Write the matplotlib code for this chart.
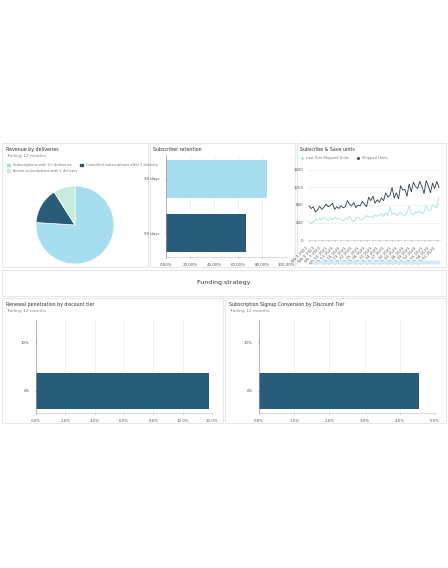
import matplotlib.pyplot as plt
from matplotlib.patches import Rectangle

W, H = 448, 568
fig = plt.figure(figsize=(4.48, 5.68), dpi=100)
fig.patch.set_facecolor('white')

LIGHT = '#a6def0'
DARK = '#285d79'
MINT = '#c7ecd9'
GRID = '#e6e6e6'
TXT = '#555555'

pie_labels = ['Subscriptions with 2+ deliveries', 'Cancelled subscriptions after 1 delivery',
              'Active subscriptions with 1 delivery']
pie_values = [76, 15, 9]

ret_cats = ['90 days', '30 days']
ret_vals = [67, 84]

shipped = [780, 720, 760, 640, 690, 770, 700, 750, 820, 760, 790, 840, 700, 760, 720, 780, 740,
           760, 900, 820, 780, 860, 740, 800, 780, 880, 820, 760, 980, 900, 1000, 840, 920, 860,
           960, 900, 1080, 980, 1020, 1200, 960, 1080, 940, 1240, 1140, 1160, 1000, 1280, 1100,
           1320, 1220, 1180, 1340, 1220, 1060, 1360, 1240, 1080, 1300, 1180, 1340, 1200]
last_year = [420, 380, 400, 480, 450, 500, 460, 520, 480, 440, 500, 460, 520, 480, 500, 460, 440,
             500, 480, 540, 460, 420, 500, 520, 480, 460, 500, 560, 520, 540, 500, 580, 540, 560,
             600, 540, 620, 560, 760, 580, 620, 560, 600, 640, 580, 560, 620, 780, 600, 580, 640,
             620, 660, 600, 640, 780, 680, 660, 800, 760, 740, 980]
week_labels = ['Wk %d 2023' % (i + 1) for i in range(len(shipped))]

tier_cats = ['0%', '10%']
renewal_vals = [11.8, 0]
signup_vals = [4.55, 0]


def ax_at(x0, y0, x1, y1):
    return fig.add_axes([x0 / W, 1 - y1 / H, (x1 - x0) / W, (y1 - y0) / H])


def panel(x0, y0, x1, y1):
    fig.patches.append(Rectangle((x0 / W, 1 - y1 / H), (x1 - x0) / W, (y1 - y0) / H,
                                 transform=fig.transFigure, facecolor='white',
                                 edgecolor='#e8e8e8', lw=0.8, zorder=-10))


def ptext(x, y, s, size=3.2, color='#333333', **kw):
    fig.text(x / W, 1 - y / H, s, fontsize=size, color=color, va='top', **kw)


def style(ax):
    ax.patch.set_alpha(0)
    for s in ['top', 'right']:
        ax.spines[s].set_visible(False)
    ax.spines['left'].set_color('#999999')
    ax.spines['bottom'].set_color('#cccccc')
    ax.spines['left'].set_linewidth(0.5)
    ax.spines['bottom'].set_linewidth(0.5)
    ax.tick_params(labelsize=2.8, colors=TXT, length=1, width=0.4)


# panels
panel(2, 143, 148, 267)
panel(150, 143, 295, 267)
panel(297, 143, 446, 267)
panel(2, 270, 446, 296)
panel(2, 298, 223, 423)
panel(225, 298, 446, 423)

# pie
ptext(6, 147, 'Revenue by deliveries', 3.4)
ptext(6, 154, 'Trailing 12 months', 3.2, '#888888')
ax = ax_at(36, 186, 114, 264)
ax.pie(pie_values, colors=[LIGHT, DARK, MINT], startangle=90, counterclock=False,
       wedgeprops=dict(edgecolor='white', linewidth=0.5))
ax.set_xlim(-1, 1)
ax.set_ylim(-1, 1)
ax.set_aspect('equal')
handles = [Rectangle((0, 0), 1, 1, color=c) for c in [LIGHT, DARK, MINT]]
fig.legend([handles[0], handles[2], handles[1]], [pie_labels[0], pie_labels[2], pie_labels[1]],
           loc='upper left', bbox_to_anchor=(4 / W, 1 - 160 / H), ncol=2, fontsize=2.6,
           frameon=False, handlelength=0.8, handleheight=0.8, columnspacing=0.8,
           labelcolor='#777777')

# retention
ptext(153, 147, 'Subscriber retention', 3.4)
ax = ax_at(166, 155, 286, 257)
ax.barh(ret_cats, ret_vals, color=[DARK, LIGHT], height=0.7)
ax.set_xlim(0, 100)
ax.set_xticks(range(0, 101, 20))
ax.set_xticklabels(['%.2f%%' % v for v in range(0, 101, 20)])
ax.grid(axis='x', color=GRID, lw=0.4)
ax.set_axisbelow(True)
style(ax)

# line chart
ptext(300, 147, 'Subscribe & Save units', 3.4)
fig.legend([plt.Line2D([], [], color=LIGHT, marker='o', ms=1, lw=0),
            plt.Line2D([], [], color='#1f2e3a', marker='o', ms=1, lw=0)],
           ['Last Year Shipped Units', 'Shipped Units'], loc='upper left',
           bbox_to_anchor=(298 / W, 1 - 153 / H), ncol=2, fontsize=2.6, frameon=False,
           handlelength=0.6, labelcolor='#777777')
ax = ax_at(308, 170, 440, 240)
ax.plot(range(len(last_year)), last_year, color=LIGHT, lw=0.6)
ax.plot(range(len(shipped)), shipped, color='#2d3b45', lw=0.6)
ax.set_ylim(0, 1600)
ax.set_yticks([0, 400, 800, 1200, 1600])
ax.set_xticks(range(0, len(shipped), 3))
ax.set_xticklabels(week_labels[::3], rotation=45, ha='right')
ax.set_xlim(-0.5, len(shipped) - 0.5)
ax.grid(axis='y', color=GRID, lw=0.4)
style(ax)
ax.spines['left'].set_visible(False)
ax.tick_params(axis='y', length=0)
fig.patches.append(Rectangle((312 / W, 1 - 264 / H), 128 / W, 3 / H, transform=fig.transFigure,
                             facecolor='#d6eef8', edgecolor='#b5dcee', lw=0.3))

fig.text(224 / W, 1 - 283 / H, 'Funding strategy', fontsize=4.5, color='#333333',
         ha='center', va='center')

# bottom charts
for (x0, x1, title, vals, xmax, step) in [
        (2, 223, 'Renewal penetration by discount tier', renewal_vals, 12, 2),
        (225, 446, 'Subscription Signup Conversion by Discount Tier', signup_vals, 5, 1)]:
    ptext(x0 + 4, 302, title, 3.4)
    ptext(x0 + 4, 309, 'Trailing 12 months', 3.2, '#888888')
    ax = ax_at(x0 + 34, 320, x1 - 11, 413)
    ax.barh(tier_cats, vals, color=DARK, height=0.75)
    ax.set_xlim(0, xmax)
    ticks = [i * step for i in range(xmax // step + 1)]
    ax.set_xticks(ticks)
    ax.set_xticklabels(['%.1f%%' % t for t in ticks])
    ax.grid(axis='x', color=GRID, lw=0.4)
    ax.set_axisbelow(True)
    style(ax)

fig.savefig('out.png', dpi=100)
